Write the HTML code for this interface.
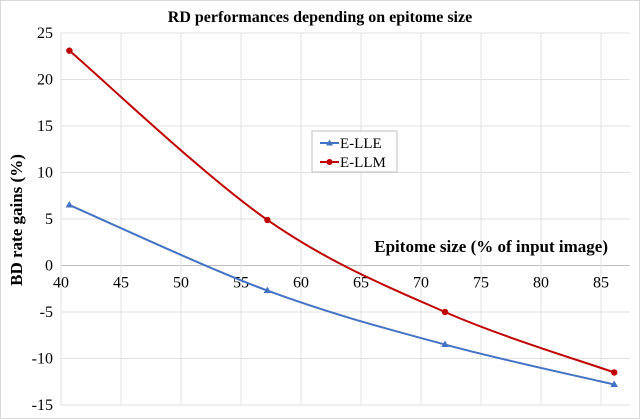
<!DOCTYPE html>
<html><head><meta charset="utf-8"><style>
html,body{margin:0;padding:0;background:#fff;}
svg{display:block;font-family:"Liberation Serif",serif;}
</style></head><body>
<svg id="chart" width="640" height="419" viewBox="0 0 640 419">
<rect x="0.5" y="0.5" width="639" height="418" fill="#fff" stroke="#d9d9d9"/>
<text x="320" y="22" text-anchor="middle" font-size="16" font-weight="bold">RD performances depending on epitome size</text>
<g id="grid"></g>
<g id="yticks"></g>
<g id="xticks"></g>
<text transform="translate(22,220) rotate(-90)" text-anchor="middle" font-size="17" font-weight="bold">BD rate gains (%)</text>
<text x="608" y="252" text-anchor="end" font-size="17" font-weight="bold">Epitome size (% of input image)</text>
<g id="series"></g>
<g>
<rect x="312" y="131" width="85" height="41" fill="#fff" stroke="#bfbfbf"/>
<g>
<line x1="320" y1="143" x2="339" y2="143" stroke="#4472c4" stroke-width="2"/>
<polygon points="329.5,139.5 333,145.5 326,145.5" fill="#4472c4"/>
<text x="340" y="148" font-size="15">E-LLE</text></g>
<g>
<line x1="320" y1="162" x2="339" y2="162" stroke="#c00000" stroke-width="2"/>
<circle cx="329.5" cy="162" r="3" fill="#c00000"/>
<text x="340" y="167" font-size="15">E-LLM</text></g>
</g>
</svg>
<script>
const xCats = [40.7, 57.2, 72, 86.1];
const lleValues = [6.5, -2.7, -8.5, -12.8];
const llmValues = [23.1, 4.9, -5.0, -11.5];
const yTicks = [25, 20, 15, 10, 5, 0, -5, -10, -15];
const xTicks = [40, 45, 50, 55, 60, 65, 70, 75, 80, 85];
const NS = "http://www.w3.org/2000/svg";
const X0 = 61, XS = 12, Y0 = 265.5, YS = 9.3;
const xs = v => X0 + (v - 40) * XS;
const ys = v => Y0 - v * YS;
const right = 630;
function mk(tag, attrs, parent){const e=document.createElementNS(NS,tag);for(const k in attrs)e.setAttribute(k,attrs[k]);parent.appendChild(e);return e;}
const grid=document.getElementById('grid'), yt=document.getElementById('yticks'), xt=document.getElementById('xticks'), ser=document.getElementById('series');
yTicks.forEach(t=>{
  const l=mk('line',{x1:X0,x2:right,y1:ys(t),y2:ys(t),stroke:t===0?'#bfbfbf':'#e0e0e0','stroke-width':1},grid);
  
  
  const tx=mk('text',{x:X0-8,y:ys(t)+5,'text-anchor':'end','font-size':16},yt);
  tx.textContent=t;
  
  
});
xTicks.forEach(t=>{
  const l=mk('line',{x1:xs(t),x2:xs(t),y1:ys(25),y2:ys(-15),stroke:'#e0e0e0','stroke-width':1},grid);
  
  
  const tx=mk('text',{x:xs(t),y:ys(0)+22,'text-anchor':'middle','font-size':16},xt);
  tx.textContent=t;
  
  
});
function smooth(pts){
  let d=`M${pts[0][0]},${pts[0][1]}`;
  for(let i=0;i<pts.length-1;i++){
    const p0=pts[i-1]||pts[i],p1=pts[i],p2=pts[i+1],p3=pts[i+2]||p2;
    const c1=[p1[0]+(p2[0]-p0[0])/6,p1[1]+(p2[1]-p0[1])/6];
    const c2=[p2[0]-(p3[0]-p1[0])/6,p2[1]-(p3[1]-p1[1])/6];
    d+=` C${c1[0]},${c1[1]} ${c2[0]},${c2[1]} ${p2[0]},${p2[1]}`;
  }
  return d;
}
function series(vals,color,name,marker){
  const pts=xCats.map((x,i)=>[xs(x),ys(vals[i])]);
  const p=mk('path',{d:smooth(pts),fill:'none',stroke:color,'stroke-width':2},ser);
  
  
  pts.forEach(([x,y])=>{
    let m;
    if(marker==='tri') m=mk('polygon',{points:`${x},${y-4} ${x+3.8},${y+2.5} ${x-3.8},${y+2.5}`,fill:color},ser);
    else m=mk('circle',{cx:x,cy:y,r:3.2,fill:color},ser);
    
    
  });
}
series(lleValues,'#4472c4','e-lle','tri');
series(llmValues,'#c00000','e-llm','circ');
</script>
</body></html>
